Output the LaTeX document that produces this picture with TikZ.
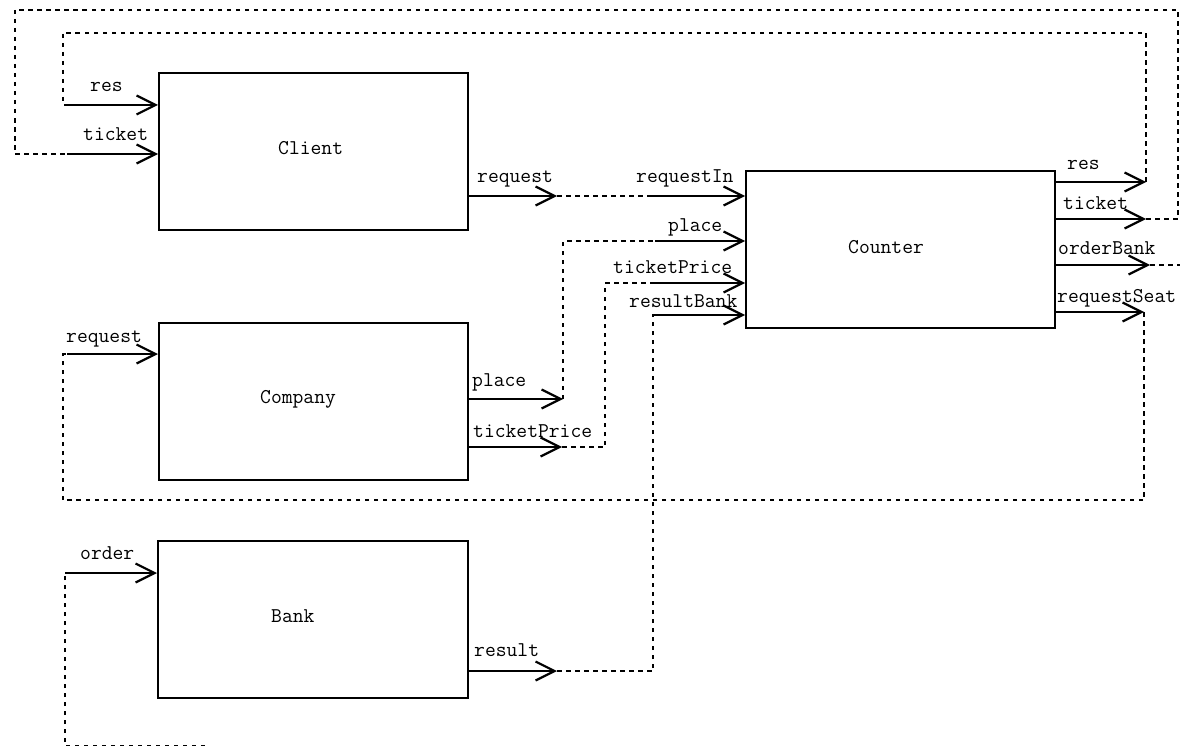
\documentclass[tikz,border=0pt]{standalone}
\usepackage{fontspec}
\usetikzlibrary{arrows.meta}
\begin{document}
\begin{tikzpicture}[x=1pt,y=-1pt,
  box/.style={draw,line width=2.2pt,inner sep=0pt,anchor=north west,minimum width=309pt,minimum height=157pt},
  port/.style={line width=2.2pt,-{Straight Barb[length=19pt,width=19pt]}},
  wire/.style={line width=2.2pt,dash pattern=on 4.5pt off 4.5pt},
  lbl/.style={font=\ttfamily\fontsize{21}{23}\selectfont,inner sep=0pt,anchor=base west},
]
\useasboundingbox (0,0) rectangle (1180,746);

% boxes
\node[box] (client) at (158,72) {};
\node[box] (counter) at (745,170) {};
\node[box] (company) at (158,321.5) {};
\node[box,minimum width=310pt] (bank) at (157,540) {};

\node[lbl] (clientT) at (278,155) {Client};
\node[lbl] (counterT) at (848,253) {Counter};
\node[lbl] (companyT) at (260,403) {Company};
\node[lbl] (bankT) at (271,622) {Bank};

% port coordinates
\coordinate (clResIn) at (67,105);
\coordinate (clTicketIn) at (67,154);
\coordinate (clReqOut) at (557,196);
\coordinate (ctReqIn) at (652,196);
\coordinate (ctPlaceIn) at (655,241);
\coordinate (ctTPIn) at (652,283);
\coordinate (ctRBIn) at (655,315);
\coordinate (ctResOut) at (1146,182);
\coordinate (ctTicketOut) at (1146,219);
\coordinate (ctOBOut) at (1150,265);
\coordinate (ctRSOut) at (1144,312);
\coordinate (coReqIn) at (67,354);
\coordinate (coPlaceOut) at (563,399);
\coordinate (coTPOut) at (562,447);
\coordinate (bkOrderIn) at (65,573);
\coordinate (bkResOut) at (557,671);
\coordinate (obFree) at (1184,265);
\coordinate (orFree) at (205,746);

% solid port arrows
\draw[port] (clResIn) -- (clResIn -| client.west);
\draw[port] (clTicketIn) -- (clTicketIn -| client.west);
\draw[port] (clReqOut -| client.east) -- (clReqOut);
\draw[port] (ctReqIn) -- (ctReqIn -| counter.west);
\draw[port] (ctPlaceIn) -- (ctPlaceIn -| counter.west);
\draw[port] (ctTPIn) -- (ctTPIn -| counter.west);
\draw[port] (ctRBIn) -- (ctRBIn -| counter.west);
\draw[port] (ctResOut -| counter.east) -- (ctResOut);
\draw[port] (ctTicketOut -| counter.east) -- (ctTicketOut);
\draw[port] (ctOBOut -| counter.east) -- (ctOBOut);
\draw[port] (ctRSOut -| counter.east) -- (ctRSOut);
\draw[port] (coReqIn) -- (coReqIn -| company.west);
\draw[port] (coPlaceOut -| company.east) -- (coPlaceOut);
\draw[port] (coTPOut -| company.east) -- (coTPOut);
\draw[port] (bkOrderIn) -- (bkOrderIn -| bank.west);
\draw[port] (bkResOut -| bank.east) -- (bkResOut);

% port labels
\node[lbl] (l1) at (90,92) {res};
\node[lbl] (l2) at (83,141) {ticket};
\node[lbl] (l3) at (477,183) {request};
\node[lbl] (l4) at (636,183) {requestIn};
\node[lbl] (l5) at (668,231) {place};
\node[lbl] (l6) at (613,273) {ticketPrice};
\node[lbl] (l7) at (629,307) {resultBank};
\node[lbl] (l8) at (1067,170) {res};
\node[lbl] (l9) at (1063,209) {ticket};
\node[lbl] (l10) at (1058,254) {orderBank};
\node[lbl] (l11) at (1057,302) {requestSeat};
\node[lbl] (l12) at (66,342) {request};
\node[lbl] (l13) at (472,386) {place};
\node[lbl] (l14) at (473,437) {ticketPrice};
\node[lbl] (l15) at (80,559) {order};
\node[lbl] (l16) at (474,656) {result};

% dashed connections
\draw[wire] (ctTicketOut) -| (1178,10) -| (15,154) -- (clTicketIn);
\draw[wire] (ctResOut) |- (63,33) |- (clResIn);
\draw[wire] (clReqOut) -- (ctReqIn);
\draw[wire] (coPlaceOut) |- (ctPlaceIn);
\draw[wire] (coTPOut) -- (605,447) |- (ctTPIn);
\draw[wire] (bkResOut) -- (653,671) |- (ctRBIn);
\draw[wire] (ctRSOut) |- (63,500) |- (coReqIn);
\draw[wire] (ctOBOut) -- (obFree);
\draw[wire] (orFree) -| (bkOrderIn);
\end{tikzpicture}
\end{document}
